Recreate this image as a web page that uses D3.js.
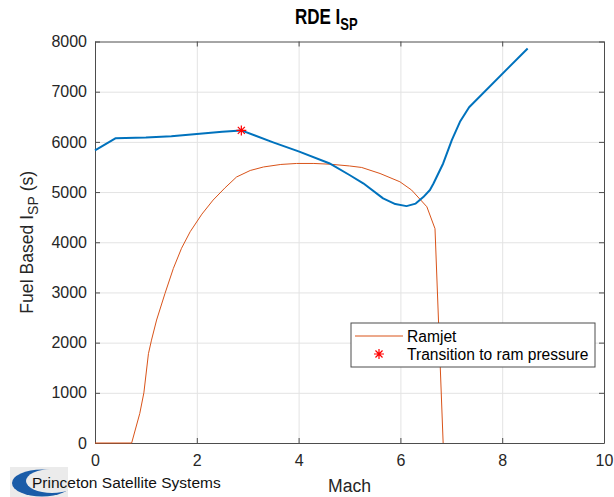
<!DOCTYPE html>
<html>
<head>
<meta charset="utf-8">
<script src="https://cdn.jsdelivr.net/npm/d3@7"></script>
<style>
  body { margin: 0; background: #fff; }
  text { font-family: "Liberation Sans", Arial, sans-serif; }
</style>
</head>
<body>
<div id="chart"></div>
<script>
// RDE curve (blue)
const rdeMach = [0, 0.4, 1.0, 1.5, 2.0, 2.5, 2.875, 3.5, 4.0, 4.6, 5.0, 5.27, 5.66, 5.9, 6.12, 6.3, 6.45, 6.58, 6.65, 6.84, 7.01, 7.17, 7.35, 8.5];
const rdeIsp  = [5830, 6070, 6085, 6110, 6155, 6200, 6229, 5990, 5810, 5575, 5340, 5175, 4875, 4760, 4720, 4770, 4900, 5040, 5170, 5570, 6036, 6400, 6690, 7862];

// Ramjet curve (orange)
const ramMach = [0, 0.72, 0.88, 0.96, 1.05, 1.11, 1.21, 1.375, 1.54, 1.7, 1.87, 2.1, 2.32, 2.55, 2.78, 3.05, 3.31, 3.65, 3.96, 4.3, 4.62, 5.0, 5.24, 5.6, 5.99, 6.22, 6.52, 6.68, 6.84];
const ramIsp  = [0, 0, 590, 1000, 1780, 2050, 2450, 2980, 3480, 3880, 4210, 4560, 4840, 5080, 5300, 5430, 5500, 5550, 5570, 5570, 5555, 5520, 5490, 5370, 5205, 5040, 4707, 4270, 0];

// transition point
const transMach = [2.875];
const transIsp  = [6229];

const xTicks = [0, 2, 4, 6, 8, 10];
const yTicks = [0, 1000, 2000, 3000, 4000, 5000, 6000, 7000, 8000];

const width = 614;
const height = 497;
const plotL = 95, plotR = 604, plotT = 41.5, plotB = 443;

const svg = d3.select('#chart')
    .append('svg')
        .attr('width', width)
        .attr('height', height);

const x = d3.scaleLinear().domain([0, 10]).range([plotL, plotR]);
const y = d3.scaleLinear().domain([0, 8000]).range([plotB, plotT]);

// grid
svg.append('g')
    .attr('transform', `translate(0,${plotB})`)
    .call(d3.axisBottom(x).tickValues(xTicks.slice(1, -1)).tickSize(-(plotB - plotT)).tickFormat(''))
    .call(g => g.select('.domain').remove())
    .call(g => g.selectAll('line').attr('stroke', '#e3e3e3'));
svg.append('g')
    .attr('transform', `translate(${plotL},0)`)
    .call(d3.axisLeft(y).tickValues(yTicks.slice(1, -1)).tickSize(-(plotR - plotL)).tickFormat(''))
    .call(g => g.select('.domain').remove())
    .call(g => g.selectAll('line').attr('stroke', '#e3e3e3'));

const axisColor = '#4d4d4d';
const styleAxis = g => {
    g.select('.domain').attr('stroke', axisColor);
    g.selectAll('line').attr('stroke', axisColor);
    g.selectAll('text').attr('fill', '#262626').style('font-size', '16px')
        .style('font-family', '"Liberation Sans", Arial, sans-serif');
};

svg.append('g')
    .attr('transform', `translate(0,${plotB})`)
    .call(d3.axisBottom(x).tickValues(xTicks).tickFormat(d3.format('d')).tickSize(-5).tickSizeOuter(0).tickPadding(12))
    .call(styleAxis);
svg.append('g')
    .attr('transform', `translate(0,${plotT})`)
    .call(d3.axisTop(x).tickValues(xTicks).tickSize(-5).tickSizeOuter(0).tickFormat(''))
    .call(styleAxis);
svg.append('g')
    .attr('transform', `translate(${plotL},0)`)
    .call(d3.axisLeft(y).tickValues(yTicks).tickFormat(d3.format('d')).tickSize(-5).tickSizeOuter(0).tickPadding(8))
    .call(styleAxis);
svg.append('g')
    .attr('transform', `translate(${plotR},0)`)
    .call(d3.axisRight(y).tickValues(yTicks).tickSize(-5).tickSizeOuter(0).tickFormat(''))
    .call(styleAxis);

// lines
const line = d3.line().x(d => x(d[0])).y(d => y(d[1]));

svg.append('path')
    .datum(ramMach.map((m, i) => [m, ramIsp[i]]))
    .attr('fill', 'none')
    .attr('stroke', '#D95319')
    .attr('stroke-width', 1)
    .attr('d', line);

svg.append('path')
    .datum(rdeMach.map((m, i) => [m, rdeIsp[i]]))
    .attr('fill', 'none')
    .attr('stroke', '#0072BD')
    .attr('stroke-width', 2)
    .attr('stroke-linejoin', 'round')
    .attr('d', line);

// asterisk marker like matlab '*'
const star = r => {
    const d = r * Math.SQRT1_2;
    return `M${-r},0L${r},0M0,${-r}L0,${r}M${-d},${-d}L${d},${d}M${-d},${d}L${d},${-d}`;
};

svg.selectAll('.trans')
    .data(transMach.map((m, i) => [m, transIsp[i]]))
    .enter()
    .append('path')
        .attr('class', 'trans')
        .attr('transform', d => `translate(${x(d[0])},${y(d[1])})`)
        .attr('d', star(5))
        .attr('stroke', '#ff0000')
        .attr('stroke-width', 1.2)
        .attr('fill', 'none');

// legend
const lg = svg.append('g');
lg.append('rect')
    .attr('x', 351).attr('y', 323).attr('width', 244).attr('height', 44)
    .attr('fill', '#fff').attr('stroke', axisColor).attr('stroke-width', 1);
lg.append('line')
    .attr('x1', 355).attr('x2', 403).attr('y1', 336).attr('y2', 336)
    .attr('stroke', '#D95319').attr('stroke-width', 1);
lg.append('path')
    .attr('transform', 'translate(379,354)')
    .attr('d', star(5))
    .attr('stroke', '#ff0000').attr('stroke-width', 1.2).attr('fill', 'none');
lg.append('text').attr('x', 407).attr('y', 341.5)
    .style('font-size', '15.6px').attr('fill', '#000').text('Ramjet');
lg.append('text').attr('x', 407).attr('y', 359.5)
    .style('font-size', '15.6px').attr('fill', '#000').text('Transition to ram pressure');

// title (slightly stretched vertically like the reference)
const title = svg.append('text')
    .attr('transform', 'translate(295,24) scale(1,1.25)')
    .style('font-size', '17px').style('font-weight', 'bold')
    .attr('fill', '#000');
title.append('tspan').text('RDE I');
title.append('tspan').attr('dy', 5).style('font-size', '13px').text('SP');

// axis labels
svg.append('text')
    .attr('x', (plotL + plotR) / 2).attr('y', 492)
    .attr('text-anchor', 'middle')
    .style('font-size', '17.6px').attr('fill', '#262626')
    .text('Mach');

const ylab = svg.append('text')
    .attr('transform', `translate(33,${(plotT + plotB) / 2}) rotate(-90)`)
    .attr('text-anchor', 'middle')
    .style('font-size', '17.6px').attr('fill', '#262626');
ylab.append('tspan').text('Fuel Based I');
ylab.append('tspan').attr('dy', 5).style('font-size', '14px').text('SP');
ylab.append('tspan').attr('dy', -5).text(' (s)');

// logo
const logo = svg.append('g');
logo.append('clipPath').attr('id', 'logoclip')
    .append('rect').attr('x', 10).attr('y', 467).attr('width', 58).attr('height', 30);
logo.append('rect').attr('x', 10).attr('y', 467).attr('width', 58).attr('height', 30).attr('fill', '#ebebeb');
const lc = logo.append('g').attr('clip-path', 'url(#logoclip)');
lc.append('ellipse').attr('cx', 42).attr('cy', 483).attr('rx', 30).attr('ry', 13.5).attr('fill', '#1a5ca8');
lc.append('ellipse').attr('cx', 52).attr('cy', 481).attr('rx', 26).attr('ry', 12).attr('fill', '#ebebeb');
logo.append('text').attr('x', 32).attr('y', 488)
    .style('font-size', '15.5px').attr('fill', '#111')
    .text('Princeton Satellite Systems');
</script>
</body>
</html>
